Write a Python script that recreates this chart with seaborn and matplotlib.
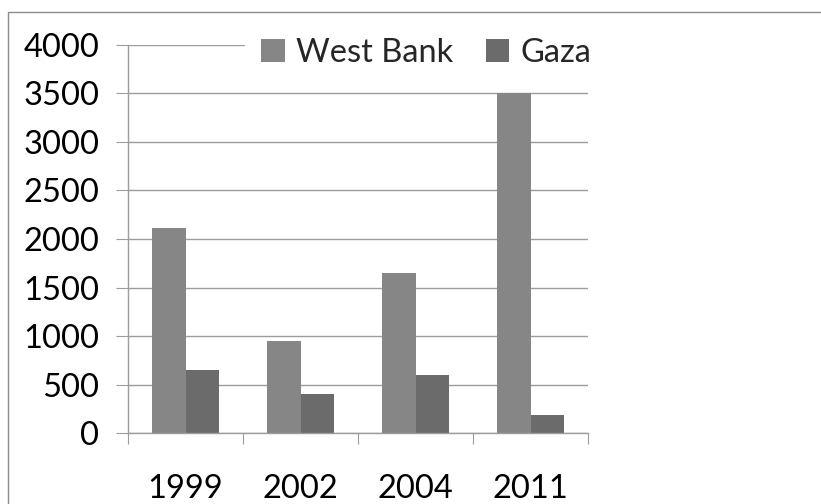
import matplotlib
matplotlib.use("Agg")
import matplotlib.pyplot as plt
from matplotlib.patches import Rectangle, Patch
from matplotlib.ticker import FixedLocator, MultipleLocator
import numpy as np
import pandas as pd
import seaborn as sns

# Values by year and region
years = ["1999", "2002", "2004", "2011"]
west_bank = [2110, 950, 1650, 3500]
gaza = [650, 400, 600, 190]
regions = ["West Bank", "Gaza"]
colors = ["#868686", "#6b6b6b"]

df = pd.DataFrame({
    "Year": years * 2,
    "Value": west_bank + gaza,
    "Region": [regions[0]] * len(years) + [regions[1]] * len(years),
})

sns.set_theme(style="white")
plt.rcParams["font.family"] = ["Lato", "DejaVu Sans"]

W, H = 821, 504
fig = plt.figure(figsize=(W / 100, H / 100), dpi=100)
ax = fig.add_axes([128 / W, 1 - 433.3 / H, (588 - 128) / W, (433.3 - 44.7) / H])

sns.barplot(data=df, x="Year", y="Value", hue="Region", palette=colors,
            width=0.574, saturation=1, gap=0, linewidth=0, ax=ax, legend=False)

grid_c = "#9c9c9c"
ax.set_ylim(0, 4000)
ax.set_xlim(-0.5, len(years) - 0.5)
ax.yaxis.set_major_locator(MultipleLocator(500))
ax.set_axisbelow(True)
ax.yaxis.grid(True, color=grid_c, linewidth=1.0)
ax.xaxis.grid(False)
ax.set_xlabel("")
ax.set_ylabel("")

for s in ["top", "right"]:
    ax.spines[s].set_visible(False)
for s in ["left", "bottom"]:
    ax.spines[s].set_color(grid_c)
    ax.spines[s].set_linewidth(1.0)

fs = 23.5
ax.tick_params(axis="y", which="major", direction="out", length=8.6, width=0.8,
               color=grid_c, pad=12.2, labelsize=fs, left=True, labelcolor="black")
ax.tick_params(axis="x", which="major", length=0, pad=29, labelsize=fs,
               labelcolor="black", bottom=False)
ax.xaxis.set_minor_locator(FixedLocator(np.arange(-0.5, len(years), 1.0)))
ax.tick_params(axis="x", which="minor", direction="out", length=7.9, width=0.8,
               color=grid_c, bottom=True)

handles = [Patch(facecolor=c, edgecolor="none") for c in colors]
leg = fig.legend(handles, regions, loc="center", ncol=2,
                 bbox_to_anchor=(426 / W, 1 - 53 / H), fontsize=fs,
                 frameon=True, fancybox=False, framealpha=1, facecolor="white",
                 edgecolor="none", handlelength=0.72, handleheight=0.72,
                 handletextpad=0.34, columnspacing=1.0, borderpad=0.5)

# Outer chart border
fig.patches.append(Rectangle((8 / W, -0.1), 1.0, 1.1 - 12 / H, transform=fig.transFigure,
                             fill=False, edgecolor="#8c8c8c", linewidth=1.0))

fig.savefig("out.png", dpi=100, facecolor="white")
